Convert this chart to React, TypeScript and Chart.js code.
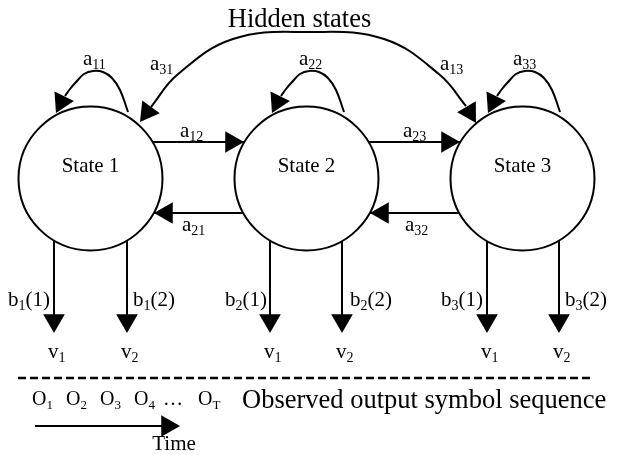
import { useEffect, useRef } from "react";
import { Chart, registerables } from "chart.js";
Chart.register(...registerables);

const FONT = '"Liberation Serif", "Times New Roman", serif';

// States (hidden)
const stateNames = ["State 1", "State 2", "State 3"];
const stateX = [90.5, 306.5, 522.5];
const stateY = [178.5, 178.5, 178.5];
const stateRadius = 72;
const stateLabelY = 172;

// Horizontal transitions a12, a23, a21, a32
const hArrowY = [142, 142, 213, 213];
const hArrowFromX = [153, 369, 243, 459];
const hArrowToX = [244, 460, 154, 370];
const hArrowDir = [90, 90, 270, 270];

// Self-loop shape relative to state centre, and its arrow tip
const loopDX = [37.5, 29.5, 21.5, 12.5, 2.5, -6.5, -13.5, -20.5, -25.5];
const loopDY = [-66.5, -88.5, -100.5, -106.5, -107.5, -104.5, -97.5, -89.5, -82.5];
const loopTipDX = -34.5;
const loopTipDY = -65.5;
const loopTipDir = 206;

// Long arc between State 1 and State 3 (a31 / a13)
const arcX = [151, 177, 233, 308.5, 384, 440, 466];
const arcY = [107, 75, 39, 32, 39, 75, 106];
const arcTipX = [140, 476];
const arcTipY = [122, 123];
const arcTipDir = [216, 149.5];

// Emission arrows
const emitState = [0, 0, 1, 1, 2, 2];
const emitX = [54, 127, 270, 342, 487, 559];
const emitToY = 333;
const emitSub = ["1", "1", "2", "2", "3", "3"];
const emitTail = ["(1)", "(2)", "(1)", "(2)", "(1)", "(2)"];
const emitLabelX = [8, 133, 225, 350, 441, 565];
const emitLabelY = 306;
const symSub = ["1", "2", "1", "2", "1", "2"];
const symLabelY = 358;

// Transition labels
const transSub = ["11", "22", "33", "31", "13", "12", "23", "21", "32"];
const transLabelX = [83, 299, 513, 150, 440, 180, 403, 182, 405];
const transLabelY = [65, 65, 65, 70, 70, 137, 137, 231, 231];

// Observation sequence
const obsBase = ["O", "O", "O", "O", "…", "O"];
const obsSub = ["1", "2", "3", "4", "", "T"];
const obsX = [32, 66, 100, 134, 163, 198];
const obsY = 405;

// Separator & time arrow
const dashX = [18, 592];
const dashY = 378;
const timeX = [35, 180];
const timeY = 426;

const headR = 12.5;

function headCenter(tx: number, ty: number, deg: number) {
  const r = (deg * Math.PI) / 180;
  return { x: tx - Math.sin(r) * headR, y: ty + Math.cos(r) * headR };
}

function buildDatasets() {
  const heads: { x: number; y: number }[] = [];
  const rots: number[] = [];
  const addHead = (x: number, y: number, d: number) => {
    heads.push(headCenter(x, y, d));
    rots.push(d);
  };
  hArrowToX.forEach((x, i) => addHead(x, hArrowY[i], hArrowDir[i]));
  stateX.forEach((cx, i) => addHead(cx + loopTipDX, stateY[i] + loopTipDY, loopTipDir));
  arcTipX.forEach((x, i) => addHead(x, arcTipY[i], arcTipDir[i]));
  emitX.forEach((x) => addHead(x, emitToY, 180));
  addHead(timeX[1], timeY, 90);

  const lineDs = (data: { x: number; y: number }[], extra: any = {}) => ({
    data,
    showLine: true,
    pointRadius: 0,
    borderColor: "#000",
    borderWidth: 2,
    fill: false,
    tension: 0,
    clip: false,
    ...extra,
  });

  const ds: any[] = [];
  ds.push({
    data: heads,
    pointStyle: "triangle",
    pointRadius: headR,
    pointRotation: rots,
    pointBackgroundColor: "#000",
    pointBorderWidth: 0,
    showLine: false,
    clip: false,
  });
  ds.push({
    data: stateX.map((x, i) => ({ x, y: stateY[i] })),
    pointStyle: "circle",
    pointRadius: stateRadius,
    pointBorderWidth: 2,
    pointBorderColor: "#000",
    pointBackgroundColor: "rgba(0,0,0,0)",
    showLine: false,
    clip: false,
  });
  hArrowFromX.forEach((x, i) =>
    ds.push(lineDs([{ x, y: hArrowY[i] }, { x: hArrowToX[i], y: hArrowY[i] }]))
  );
  stateX.forEach((cx, i) =>
    ds.push(
      lineDs(
        loopDX.map((dx, k) => ({ x: cx + dx, y: stateY[i] + loopDY[k] })),
        { tension: 0.4 }
      )
    )
  );
  ds.push(lineDs(arcX.map((x, i) => ({ x, y: arcY[i] })), { tension: 0.4 }));
  emitX.forEach((x, i) => {
    const s = emitState[i];
    const dx = x - stateX[s];
    const y0 = stateY[s] + Math.sqrt(stateRadius * stateRadius - dx * dx);
    ds.push(lineDs([{ x, y: y0 }, { x, y: emitToY - 5 }]));
  });
  ds.push(
    lineDs([{ x: dashX[0], y: dashY }, { x: dashX[1], y: dashY }], {
      borderDash: [8, 4],
      borderWidth: 2.5,
    })
  );
  ds.push(lineDs([{ x: timeX[0], y: timeY }, { x: timeX[1] - 5, y: timeY }]));
  return ds;
}

const textPlugin = {
  id: "diagramText",
  afterDatasetsDraw(chart: any) {
    const ctx = chart.ctx as CanvasRenderingContext2D;
    const sx = chart.scales.x;
    const sy = chart.scales.y;
    const px = (v: number) => sx.getPixelForValue(v);
    const py = (v: number) => sy.getPixelForValue(v);
    ctx.save();
    ctx.fillStyle = "#000";
    ctx.textBaseline = "alphabetic";

    const plain = (t: string, x: number, y: number, size: number, align: CanvasTextAlign) => {
      ctx.font = `${size}px ${FONT}`;
      ctx.textAlign = align;
      ctx.fillText(t, px(x), py(y));
    };
    const sub = (base: string, s: string, tail: string, x: number, y: number, main = 21, small = 14) => {
      ctx.textAlign = "left";
      let cx = px(x);
      const cy = py(y);
      ctx.font = `${main}px ${FONT}`;
      ctx.fillText(base, cx, cy);
      cx += ctx.measureText(base).width;
      if (s) {
        ctx.font = `${small}px ${FONT}`;
        ctx.fillText(s, cx, cy + 4);
        cx += ctx.measureText(s).width;
      }
      if (tail) {
        ctx.font = `${main}px ${FONT}`;
        ctx.fillText(tail, cx, cy);
      }
    };

    plain("Hidden states", 299.5, 27, 26.5, "center");
    stateNames.forEach((n, i) => plain(n, stateX[i], stateLabelY, 21, "center"));
    transSub.forEach((s, i) => sub("a", s, "", transLabelX[i], transLabelY[i]));
    emitSub.forEach((s, i) => sub("b", s, emitTail[i], emitLabelX[i], emitLabelY));
    symSub.forEach((s, i) => sub("v", s, "", emitX[i] - 6, symLabelY));
    obsBase.forEach((b, i) => sub(b, obsSub[i], "", obsX[i], obsY, 20, 13));
    plain("Observed output symbol sequence", 242, 408, 26.5, "left");
    plain("Time", 174, 450, 21, "center");
    ctx.restore();
  },
};

export default function App() {
  const ref = useRef<HTMLCanvasElement>(null);
  useEffect(() => {
    document.body.style.margin = "0";
    const chart = new Chart(ref.current!, {
      type: "scatter",
      data: { datasets: buildDatasets() },
      options: {
        responsive: false,
        animation: false,
        events: [],
        layout: { padding: 0, autoPadding: false },
        plugins: { legend: { display: false }, tooltip: { enabled: false } },
        scales: {
          x: { type: "linear", min: 0, max: 620, display: false },
          y: { type: "linear", min: 0, max: 455, reverse: true, display: false },
        },
      },
      plugins: [textPlugin],
    } as any);
    return () => chart.destroy();
  }, []);
  return (
    <canvas
      ref={ref}
      width={620}
      height={455}
      style={{ display: "block", width: 620, height: 455 }}
    />
  );
}
